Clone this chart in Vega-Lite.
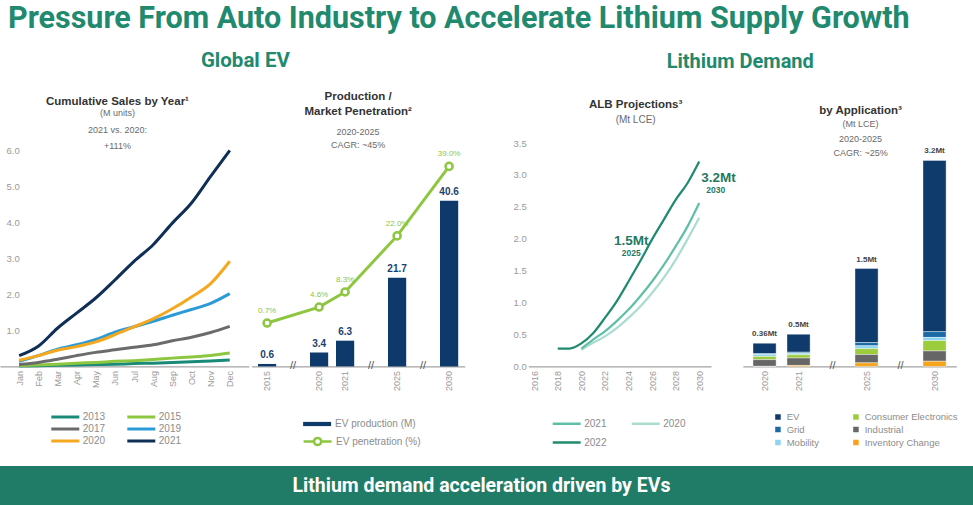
{
  "$schema": "https://vega.github.io/schema/vega-lite/v6.json",
  "background": "white",
  "padding": {"top": 4, "left": 0, "right": 0, "bottom": 0},
  "config": {
    "font": "Liberation Sans",
    "view": {"stroke": null},
    "axis": {"labelFont": "Liberation Sans", "labelColor": "#9a9a9a", "labelFontSize": 9, "ticks": false, "grid": false, "domainColor": "#8c8c8c", "labelOverlap": false},
    "legend": {"labelFont": "Liberation Sans", "labelColor": "#8c8c8c", "labelFontSize": 10},
    "title": {"font": "Liberation Sans", "color": "#333333", "subtitleFont": "Liberation Sans", "subtitleColor": "#6a6a6a", "frame": "group", "anchor": "middle"}
  },
  "title": {"text": "Pressure From Auto Industry to Accelerate Lithium Supply Growth", "anchor": "start", "frame": "bounds", "dx": 8, "font": "Roboto", "fontSize": 30.5, "fontWeight": "bold", "color": "#21896d", "offset": 16.5},
  "datasets": {
    "sales": [
      {"month": "Jan", "year": "2013", "sales": 0.01}, {"month": "Feb", "year": "2013", "sales": 0.02}, {"month": "Mar", "year": "2013", "sales": 0.03}, {"month": "Apr", "year": "2013", "sales": 0.04}, {"month": "May", "year": "2013", "sales": 0.05}, {"month": "Jun", "year": "2013", "sales": 0.06}, {"month": "Jul", "year": "2013", "sales": 0.08}, {"month": "Aug", "year": "2013", "sales": 0.09}, {"month": "Sep", "year": "2013", "sales": 0.11}, {"month": "Oct", "year": "2013", "sales": 0.13}, {"month": "Nov", "year": "2013", "sales": 0.15}, {"month": "Dec", "year": "2013", "sales": 0.18},
      {"month": "Jan", "year": "2015", "sales": 0.02}, {"month": "Feb", "year": "2015", "sales": 0.04}, {"month": "Mar", "year": "2015", "sales": 0.06}, {"month": "Apr", "year": "2015", "sales": 0.09}, {"month": "May", "year": "2015", "sales": 0.11}, {"month": "Jun", "year": "2015", "sales": 0.14}, {"month": "Jul", "year": "2015", "sales": 0.16}, {"month": "Aug", "year": "2015", "sales": 0.19}, {"month": "Sep", "year": "2015", "sales": 0.23}, {"month": "Oct", "year": "2015", "sales": 0.26}, {"month": "Nov", "year": "2015", "sales": 0.3}, {"month": "Dec", "year": "2015", "sales": 0.37},
      {"month": "Jan", "year": "2017", "sales": 0.05}, {"month": "Feb", "year": "2017", "sales": 0.11}, {"month": "Mar", "year": "2017", "sales": 0.2}, {"month": "Apr", "year": "2017", "sales": 0.3}, {"month": "May", "year": "2017", "sales": 0.39}, {"month": "Jun", "year": "2017", "sales": 0.46}, {"month": "Jul", "year": "2017", "sales": 0.53}, {"month": "Aug", "year": "2017", "sales": 0.6}, {"month": "Sep", "year": "2017", "sales": 0.71}, {"month": "Oct", "year": "2017", "sales": 0.81}, {"month": "Nov", "year": "2017", "sales": 0.94}, {"month": "Dec", "year": "2017", "sales": 1.11},
      {"month": "Jan", "year": "2019", "sales": 0.14}, {"month": "Feb", "year": "2019", "sales": 0.3}, {"month": "Mar", "year": "2019", "sales": 0.48}, {"month": "Apr", "year": "2019", "sales": 0.6}, {"month": "May", "year": "2019", "sales": 0.75}, {"month": "Jun", "year": "2019", "sales": 0.95}, {"month": "Jul", "year": "2019", "sales": 1.1}, {"month": "Aug", "year": "2019", "sales": 1.25}, {"month": "Sep", "year": "2019", "sales": 1.42}, {"month": "Oct", "year": "2019", "sales": 1.58}, {"month": "Nov", "year": "2019", "sales": 1.75}, {"month": "Dec", "year": "2019", "sales": 2.02},
      {"month": "Jan", "year": "2020", "sales": 0.17}, {"month": "Feb", "year": "2020", "sales": 0.3}, {"month": "Mar", "year": "2020", "sales": 0.45}, {"month": "Apr", "year": "2020", "sales": 0.55}, {"month": "May", "year": "2020", "sales": 0.68}, {"month": "Jun", "year": "2020", "sales": 0.88}, {"month": "Jul", "year": "2020", "sales": 1.1}, {"month": "Aug", "year": "2020", "sales": 1.32}, {"month": "Sep", "year": "2020", "sales": 1.6}, {"month": "Oct", "year": "2020", "sales": 1.93}, {"month": "Nov", "year": "2020", "sales": 2.3}, {"month": "Dec", "year": "2020", "sales": 2.92},
      {"month": "Jan", "year": "2021", "sales": 0.3}, {"month": "Feb", "year": "2021", "sales": 0.56}, {"month": "Mar", "year": "2021", "sales": 1.06}, {"month": "Apr", "year": "2021", "sales": 1.48}, {"month": "May", "year": "2021", "sales": 1.9}, {"month": "Jun", "year": "2021", "sales": 2.4}, {"month": "Jul", "year": "2021", "sales": 2.92}, {"month": "Aug", "year": "2021", "sales": 3.38}, {"month": "Sep", "year": "2021", "sales": 3.98}, {"month": "Oct", "year": "2021", "sales": 4.54}, {"month": "Nov", "year": "2021", "sales": 5.28}, {"month": "Dec", "year": "2021", "sales": 6.0}
    ],
    "ev": [
      {"year": "2015", "production": 0.6, "penetration": 0.007},
      {"year": "2020", "production": 3.4, "penetration": 0.046},
      {"year": "2021", "production": 6.3, "penetration": 0.083},
      {"year": "2025", "production": 21.7, "penetration": 0.22},
      {"year": "2030", "production": 40.6, "penetration": 0.39}
    ],
    "evbreaks": [{"year": "gap1"}, {"year": "gap2"}, {"year": "gap3"}],
    "alb": [
      {"year": 2020, "lce": 0.26, "vintage": "2020"}, {"year": 2021, "lce": 0.37, "vintage": "2020"}, {"year": 2022, "lce": 0.47, "vintage": "2020"}, {"year": 2023, "lce": 0.6, "vintage": "2020"}, {"year": 2024, "lce": 0.76, "vintage": "2020"}, {"year": 2025, "lce": 0.94, "vintage": "2020"}, {"year": 2026, "lce": 1.15, "vintage": "2020"}, {"year": 2027, "lce": 1.39, "vintage": "2020"}, {"year": 2028, "lce": 1.67, "vintage": "2020"}, {"year": 2029, "lce": 1.99, "vintage": "2020"}, {"year": 2030, "lce": 2.33, "vintage": "2020"},
      {"year": 2020, "lce": 0.28, "vintage": "2021"}, {"year": 2021, "lce": 0.42, "vintage": "2021"}, {"year": 2022, "lce": 0.55, "vintage": "2021"}, {"year": 2023, "lce": 0.71, "vintage": "2021"}, {"year": 2024, "lce": 0.89, "vintage": "2021"}, {"year": 2025, "lce": 1.1, "vintage": "2021"}, {"year": 2026, "lce": 1.33, "vintage": "2021"}, {"year": 2027, "lce": 1.59, "vintage": "2021"}, {"year": 2028, "lce": 1.88, "vintage": "2021"}, {"year": 2029, "lce": 2.19, "vintage": "2021"}, {"year": 2030, "lce": 2.56, "vintage": "2021"},
      {"year": 2018, "lce": 0.28, "vintage": "2022"}, {"year": 2019, "lce": 0.28, "vintage": "2022"}, {"year": 2020, "lce": 0.36, "vintage": "2022"}, {"year": 2021, "lce": 0.52, "vintage": "2022"}, {"year": 2022, "lce": 0.76, "vintage": "2022"}, {"year": 2023, "lce": 1.02, "vintage": "2022"}, {"year": 2024, "lce": 1.33, "vintage": "2022"}, {"year": 2025, "lce": 1.65, "vintage": "2022"}, {"year": 2026, "lce": 1.99, "vintage": "2022"}, {"year": 2027, "lce": 2.3, "vintage": "2022"}, {"year": 2028, "lce": 2.61, "vintage": "2022"}, {"year": 2029, "lce": 2.87, "vintage": "2022"}, {"year": 2030, "lce": 3.21, "vintage": "2022"}
    ],
    "albnotes": [
      {"year": 2025, "lce": 1.65, "big": "1.5Mt", "small": "2025"},
      {"year": 2030, "lce": 3.21, "big": "3.2Mt", "small": "2030"}
    ],
    "app": [
      {"year": "2020", "app": "EV", "lce": 0.16, "rank": 6}, {"year": "2020", "app": "Grid", "lce": 0.015, "rank": 5}, {"year": "2020", "app": "Mobility", "lce": 0.03, "rank": 4}, {"year": "2020", "app": "Consumer Electronics", "lce": 0.05, "rank": 3}, {"year": "2020", "app": "Industrial", "lce": 0.105, "rank": 2}, {"year": "2020", "app": "Inventory Change", "lce": 0.0, "rank": 1},
      {"year": "2021", "app": "EV", "lce": 0.28, "rank": 6}, {"year": "2021", "app": "Grid", "lce": 0.015, "rank": 5}, {"year": "2021", "app": "Mobility", "lce": 0.025, "rank": 4}, {"year": "2021", "app": "Consumer Electronics", "lce": 0.05, "rank": 3}, {"year": "2021", "app": "Industrial", "lce": 0.115, "rank": 2}, {"year": "2021", "app": "Inventory Change", "lce": 0.015, "rank": 1},
      {"year": "2025", "app": "EV", "lce": 1.15, "rank": 6}, {"year": "2025", "app": "Grid", "lce": 0.05, "rank": 5}, {"year": "2025", "app": "Mobility", "lce": 0.045, "rank": 4}, {"year": "2025", "app": "Consumer Electronics", "lce": 0.09, "rank": 3}, {"year": "2025", "app": "Industrial", "lce": 0.13, "rank": 2}, {"year": "2025", "app": "Inventory Change", "lce": 0.055, "rank": 1},
      {"year": "2030", "app": "EV", "lce": 2.66, "rank": 6}, {"year": "2030", "app": "Grid", "lce": 0.09, "rank": 5}, {"year": "2030", "app": "Mobility", "lce": 0.05, "rank": 4}, {"year": "2030", "app": "Consumer Electronics", "lce": 0.16, "rank": 3}, {"year": "2030", "app": "Industrial", "lce": 0.16, "rank": 2}, {"year": "2030", "app": "Inventory Change", "lce": 0.08, "rank": 1}
    ],
    "apptotals": [
      {"year": "2020", "lce": 0.36, "label": "0.36Mt"},
      {"year": "2021", "lce": 0.5, "label": "0.5Mt"},
      {"year": "2025", "lce": 1.52, "label": "1.5Mt"},
      {"year": "2030", "lce": 3.2, "label": "3.2Mt"}
    ],
    "appbreaks": [{"year": "gap1"}, {"year": "gap2"}],
    "footer": [{"msg": "Lithium demand acceleration driven by EVs"}]
  },
  "vconcat": [
    {
      "hconcat": [
        {
          "title": {"text": "Global EV", "frame": "bounds", "dx": 13, "font": "Roboto", "fontSize": 20.5, "fontWeight": "bold", "color": "#21896d", "offset": 19},
          "spacing": 2.5,
          "bounds": "flush",
          "resolve": {"scale": {"color": "independent", "fill": "independent", "stroke": "independent"}},
          "hconcat": [
            {
              "width": 248.9,
              "height": 223.4,
              "title": {"text": "Cumulative Sales by Year¹", "subtitle": ["(M units)", "2021 vs. 2020:", "+111%"], "dx": -7, "fontSize": 11.5, "fontWeight": "bold", "subtitleFontSize": 9, "subtitleLineHeight": 16.5, "subtitlePadding": 2, "offset": -8},
              "data": {"name": "sales"},
              "mark": {"type": "line", "strokeWidth": 3, "interpolate": "monotone"},
              "encoding": {
                "x": {"field": "month", "type": "ordinal", "scale": {"type": "point", "padding": 2.327, "domain": ["Jan", "Feb", "Mar", "Apr", "May", "Jun", "Jul", "Aug", "Sep", "Oct", "Nov", "Dec"]}, "axis": {"title": null, "labelAngle": -90, "labelPadding": 4}},
                "y": {"field": "sales", "type": "quantitative", "scale": {"domain": [0, 6.206], "nice": false}, "axis": {"title": null, "values": [1, 2, 3, 4, 5, 6], "format": ".1f", "domain": false, "labelAlign": "left", "labelPadding": -6, "labelFontSize": 9.5}},
                "color": {"field": "year", "type": "nominal", "scale": {"domain": ["2013", "2017", "2020", "2015", "2019", "2021"], "range": ["#1a8a78", "#6b6b6b", "#f5a81e", "#8dc63f", "#2b9bd8", "#0f2f57"]}, "legend": {"title": null, "orient": "none", "legendX": 59.3, "legendY": 268, "columns": 2, "columnPadding": 16, "rowPadding": 0, "symbolType": "M-3.11,0L3.11,0", "symbolSize": 81, "symbolStrokeWidth": 3, "labelOffset": 11.5}}
              }
            },
            {
              "width": 213.2,
              "height": 223.4,
              "title": {"text": ["Production /", "Market Penetration²"], "subtitle": ["2020-2025", "CAGR: ~45%"], "fontSize": 11.5, "fontWeight": "bold", "lineHeight": 15, "subtitleFontSize": 9, "subtitleLineHeight": 13, "subtitlePadding": 11, "offset": -7},
              "data": {"name": "ev"},
              "encoding": {
                "x": {"field": "year", "type": "ordinal", "scale": {"domain": ["2015", "gap1", "2020", "2021", "gap2", "2025", "gap3", "2030"], "paddingInner": 0.3, "paddingOuter": 0.25}, "axis": {"title": null, "labelAngle": -90, "labelPadding": 4, "labelExpr": "indexof(datum.value, 'gap') == 0 ? '' : datum.label"}}
              },
              "layer": [
                {
                  "layer": [
                    {
                      "mark": {"type": "bar"},
                      "encoding": {
                        "y": {"field": "production", "type": "quantitative", "scale": {"domain": [0, 54.75], "nice": false}, "axis": null},
                        "fill": {"datum": "EV production (M)", "type": "nominal", "scale": {"range": ["#0d3a6b"]}, "legend": {"title": null, "orient": "none", "legendX": 58.6, "legendY": 274, "symbolType": "M-2.33,-0.35L2.33,-0.35L2.33,0.35L-2.33,0.35Z", "symbolSize": 144, "labelOffset": 11}}
                      }
                    },
                    {
                      "mark": {"type": "text", "baseline": "bottom", "dy": -4, "fontWeight": "bold", "fontSize": 10, "color": "#1c3f6e"},
                      "encoding": {
                        "y": {"field": "production", "type": "quantitative"},
                        "text": {"field": "production", "type": "quantitative", "format": ".1f"}
                      }
                    },
                    {
                      "data": {"name": "evbreaks"},
                      "mark": {"type": "text", "text": "//", "fontSize": 11, "color": "#555555", "baseline": "middle"},
                      "encoding": {"y": {"datum": 0, "type": "quantitative"}}
                    }
                  ]
                },
                {
                  "layer": [
                    {
                      "mark": {"type": "line", "strokeWidth": 3},
                      "encoding": {
                        "y": {"field": "penetration", "type": "quantitative", "scale": {"domain": [-0.0991, 0.4472], "nice": false, "zero": false}, "axis": null},
                        "stroke": {"datum": "EV penetration (%)", "type": "nominal", "scale": {"range": ["#8dc63f"]}, "legend": {"title": null, "orient": "none", "legendX": 58.6, "legendY": 291, "symbolType": "M-2.33,0L-0.6,0M0.6,0L2.33,0M0.6,0A0.6,0.6,0,1,1,-0.6,0A0.6,0.6,0,1,1,0.6,0", "symbolSize": 144, "symbolStrokeWidth": 2.5, "symbolFillColor": "white", "labelOffset": 11}}
                      }
                    },
                    {
                      "mark": {"type": "point", "shape": "circle", "filled": true, "fill": "white", "size": 50, "strokeWidth": 2.5, "opacity": 1},
                      "encoding": {
                        "y": {"field": "penetration", "type": "quantitative"},
                        "stroke": {"datum": "EV penetration (%)", "type": "nominal"}
                      }
                    },
                    {
                      "mark": {"type": "text", "baseline": "bottom", "dy": -8, "fontSize": 8, "color": "#8dc63f"},
                      "encoding": {
                        "y": {"field": "penetration", "type": "quantitative"},
                        "text": {"field": "penetration", "type": "quantitative", "format": ".1%"}
                      }
                    }
                  ]
                }
              ],
              "resolve": {"scale": {"y": "independent"}}
            }
          ]
        },
        {
          "title": {"text": "Lithium Demand", "frame": "bounds", "dx": 4.6, "font": "Roboto", "fontSize": 20, "fontWeight": "bold", "color": "#21896d", "offset": 27},
          "spacing": 31.5,
          "bounds": "flush",
          "resolve": {"scale": {"color": "independent", "fill": "independent", "stroke": "independent"}},
          "hconcat": [
            {
              "width": 182.7,
              "height": 223.4,
              "title": {"text": "ALB Projections³", "subtitle": "(Mt LCE)", "dx": 16, "fontSize": 11.5, "fontWeight": "bold", "subtitleFontSize": 10, "subtitlePadding": 5, "offset": 13},
              "encoding": {
                "x": {"field": "year", "type": "quantitative", "scale": {"domain": [2015.5, 2031], "nice": false, "zero": false}, "axis": {"title": null, "values": [2016, 2018, 2020, 2022, 2024, 2026, 2028, 2030], "format": "d", "labelAngle": -90, "labelPadding": 4, "labelFlush": false, "labelOverlap": false}},
                "y": {"field": "lce", "type": "quantitative", "scale": {"domain": [0, 3.5], "nice": false}, "axis": {"title": null, "values": [0, 0.5, 1, 1.5, 2, 2.5, 3, 3.5], "format": ".1f", "domain": false, "labelPadding": 2, "labelFontSize": 9.5, "labelOverlap": false}}
              },
              "layer": [
                {
                  "data": {"name": "alb"},
                  "mark": {"type": "line", "strokeWidth": 2.2, "interpolate": "monotone"},
                  "encoding": {
                    "color": {"field": "vintage", "type": "nominal", "scale": {"domain": ["2021", "2022", "2020"], "range": ["#5fbfa7", "#1f8a6e", "#aadccf"]}, "legend": {"title": null, "orient": "none", "legendX": 30.9, "legendY": 273, "columns": 2, "columnPadding": 19, "rowPadding": 6, "symbolType": "M-2.33,0L2.33,0", "symbolSize": 144, "symbolStrokeWidth": 2.5, "labelOffset": 10}}
                  }
                },
                {
                  "data": {"name": "albnotes"},
                  "transform": [{"filter": "datum.year == 2025"}],
                  "mark": {"type": "text", "align": "center", "baseline": "middle", "dx": -9, "dy": -20, "fontSize": 13.5, "fontWeight": "bold", "color": "#1f7a62"},
                  "encoding": {"text": {"field": "big"}}
                },
                {
                  "data": {"name": "albnotes"},
                  "transform": [{"filter": "datum.year == 2025"}],
                  "mark": {"type": "text", "align": "center", "baseline": "middle", "dx": -9, "dy": -8, "fontSize": 8.5, "fontWeight": "bold", "color": "#1f7a62"},
                  "encoding": {"text": {"field": "small"}}
                },
                {
                  "data": {"name": "albnotes"},
                  "transform": [{"filter": "datum.year == 2030"}],
                  "mark": {"type": "text", "align": "left", "baseline": "middle", "dx": 2, "dy": 16.6, "fontSize": 13.5, "fontWeight": "bold", "color": "#1f7a62"},
                  "encoding": {"text": {"field": "big"}}
                },
                {
                  "data": {"name": "albnotes"},
                  "transform": [{"filter": "datum.year == 2030"}],
                  "mark": {"type": "text", "align": "left", "baseline": "middle", "dx": 7, "dy": 28.3, "fontSize": 8.5, "fontWeight": "bold", "color": "#1f7a62"},
                  "encoding": {"text": {"field": "small"}}
                }
              ]
            },
            {
              "width": 213.5,
              "height": 223.4,
              "title": {"text": "by Application³", "subtitle": ["(Mt LCE)", "2020-2025", "CAGR: ~25%"], "dx": 11, "fontSize": 11.5, "fontWeight": "bold", "subtitleFontSize": 9, "subtitleLineHeight": 14.5, "subtitlePadding": 4, "offset": -15},
              "encoding": {
                "x": {"field": "year", "type": "ordinal", "scale": {"domain": ["2020", "2021", "gap1", "2025", "gap2", "2030"], "paddingInner": 0.32, "paddingOuter": 0.3}, "axis": {"title": null, "labelAngle": -90, "labelPadding": 4, "labelExpr": "indexof(datum.value, 'gap') == 0 ? '' : datum.label"}}
              },
              "layer": [
                {
                  "data": {"name": "app"},
                  "mark": {"type": "bar", "stroke": "white", "strokeWidth": 0.4},
                  "encoding": {
                    "y": {"field": "lce", "type": "quantitative", "stack": "zero", "scale": {"domain": [0, 3.47], "nice": false}, "axis": null},
                    "color": {"field": "app", "type": "nominal", "scale": {"domain": ["EV", "Grid", "Mobility", "Consumer Electronics", "Industrial", "Inventory Change"], "range": ["#0e3b6c", "#1b6aa5", "#8dd4f2", "#9ccb3b", "#666666", "#f5a31a"]}, "legend": {"title": null, "orient": "none", "legendX": 30.4, "legendY": 268.8, "columns": 2, "columnPadding": 30, "rowPadding": -1, "symbolType": "square", "symbolSize": 49, "labelOffset": 4, "labelFontSize": 9.5}},
                    "order": {"field": "rank", "type": "quantitative", "sort": "ascending"}
                  }
                },
                {
                  "data": {"name": "apptotals"},
                  "mark": {"type": "text", "baseline": "bottom", "dy": -5, "fontWeight": "bold", "fontSize": 8, "color": "#444444"},
                  "encoding": {"y": {"field": "lce", "type": "quantitative"}, "text": {"field": "label"}}
                },
                {
                  "data": {"name": "appbreaks"},
                  "mark": {"type": "text", "text": "//", "fontSize": 11, "color": "#555555", "baseline": "middle"},
                  "encoding": {"y": {"datum": 0, "type": "quantitative"}}
                }
              ]
            }
          ]
        }
      ],
      "spacing": 47.3,
      "resolve": {"scale": {"color": "independent", "fill": "independent", "stroke": "independent"}}
    },
    {
      "width": 973,
      "height": 39,
      "view": {"fill": "#217c67", "stroke": null},
      "data": {"name": "footer"},
      "mark": {"type": "text", "color": "white", "font": "Roboto", "fontSize": 19.5, "fontWeight": "bold", "baseline": "middle", "dx": -5},
      "encoding": {"text": {"field": "msg"}}
    }
  ],
  "spacing": 15,
  "resolve": {"scale": {"color": "independent", "fill": "independent", "stroke": "independent"}}
}
